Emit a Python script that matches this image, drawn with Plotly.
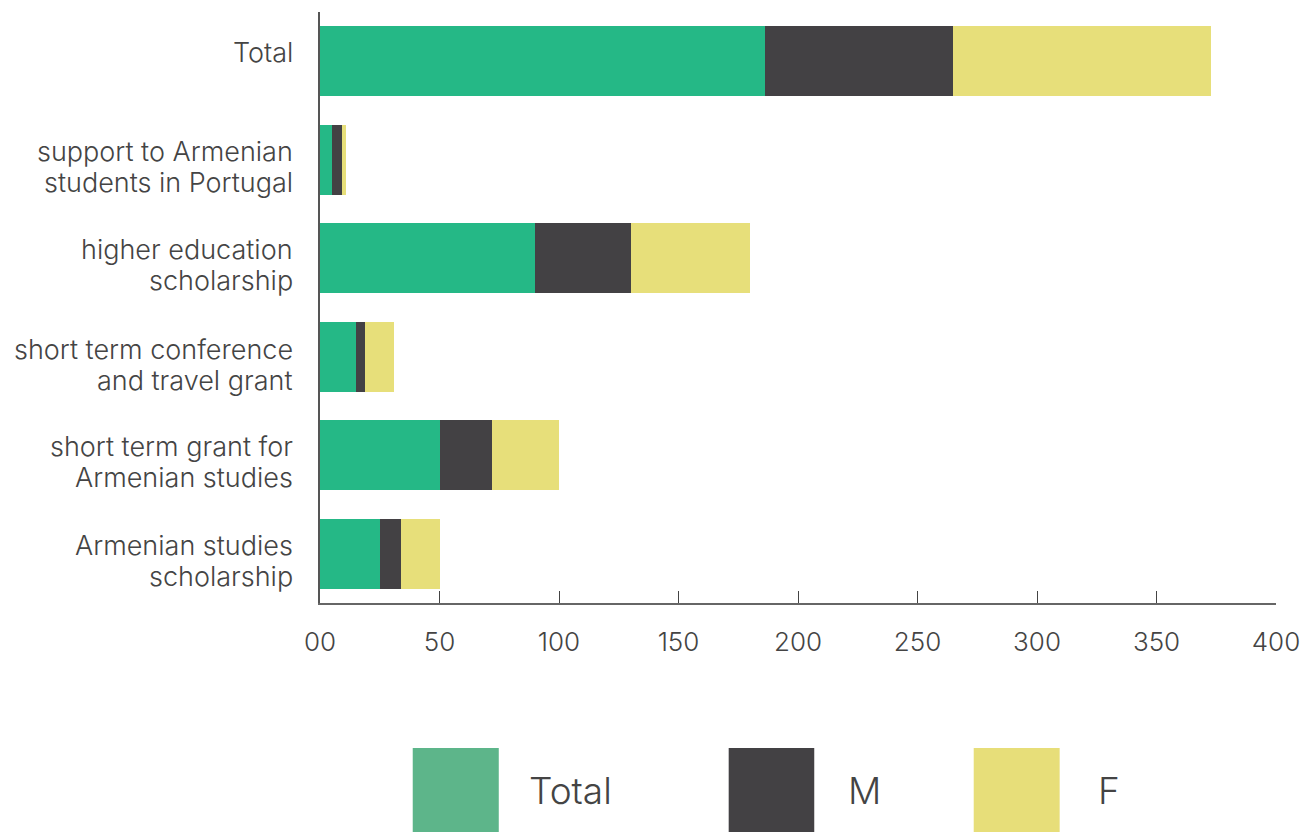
import plotly.graph_objects as go

categories = [
    "Total",
    "support to Armenian<br>students in Portugal",
    "higher education<br>scholarship",
    "short term conference<br>and travel grant",
    "short term grant for<br>Armenian studies",
    "Armenian studies<br>scholarship",
]
total_vals = [186, 5, 90, 15, 50, 25]
m_vals = [79, 4, 40, 4, 22, 9]
f_vals = [108, 2, 50, 12, 28, 16]

x_tickvals = [0, 50, 100, 150, 200, 250, 300, 350, 400]
x_ticktext = ["00", "50", "100", "150", "200", "250", "300", "350", "400"]

legend_names = ["Total", "M", "F"]
legend_colors = ["#5DB58A", "#434144", "#E7DE79"]
bar_colors = ["#25B886", "#434144", "#E7DF7A"]
label_shift = [9, -7, -7, -8, -7, -7]

FONT = "Inter, Roboto, Lato, sans-serif"
TXT = "#444444"
LINE_GAP = 31

fig = go.Figure()
for name, vals, col in zip(legend_names, [total_vals, m_vals, f_vals], bar_colors):
    fig.add_trace(go.Bar(
        y=categories, x=vals, name=name, orientation="h",
        marker=dict(color=col, line=dict(width=0)), width=0.71,
        showlegend=False, hoverinfo="x+name",
    ))

fig.update_layout(
    barmode="stack",
    width=1301, height=832,
    margin=dict(l=320, r=25, t=12, b=229, autoexpand=False),
    paper_bgcolor="white", plot_bgcolor="white",
    font=dict(family=FONT, color=TXT, size=26, weight=300),
    xaxis=dict(
        range=[0, 400], tickvals=x_tickvals, ticktext=x_ticktext,
        showgrid=False, zeroline=False, showline=True, linecolor="#666666", linewidth=1.5,
        ticks="inside", ticklen=12, tickcolor="#444444", tickwidth=1,
        tickfont=dict(size=26, color=TXT), ticklabelstandoff=15,
        ticklabeloverflow="allow", automargin=False,
    ),
    yaxis=dict(
        categoryorder="array", categoryarray=categories[::-1],
        range=[-0.5, 5.5], showgrid=False, zeroline=False,
        showline=True, linecolor="#555555", linewidth=2,
        showticklabels=False, ticks="", automargin=False,
    ),
)

for cat, dy in zip(categories, label_shift):
    lines = cat.split("<br>")
    n = len(lines)
    for i, line in enumerate(lines):
        offset = ((n - 1) / 2 - i) * LINE_GAP
        fig.add_annotation(
            x=0, y=cat, xref="x", yref="y", text=line, showarrow=False,
            xanchor="right", yanchor="middle", align="right", xshift=-25, yshift=dy + offset,
            font=dict(size=27, color=TXT, family=FONT, weight=300),
        )

legend_x = [(0.097, 0.187), (0.4275, 0.517), (0.6838, 0.7737)]
text_x = [0.217, 0.55, 0.812]
for (x0, x1), tx, col, name in zip(legend_x, text_x, legend_colors, legend_names):
    fig.add_shape(type="rect", xref="paper", yref="paper", x0=x0, x1=x1,
                  y0=-0.40, y1=-0.2453, fillcolor=col, line=dict(width=0), layer="above")
    fig.add_annotation(x=tx, y=-0.317, xref="paper", yref="paper", text=name,
                       showarrow=False, xanchor="left", yanchor="middle",
                       font=dict(size=37, color=TXT, family=FONT, weight=300))

fig.write_html("out.html", config={"displayModeBar": False},
               post_script="document.body.style.margin='0';")
